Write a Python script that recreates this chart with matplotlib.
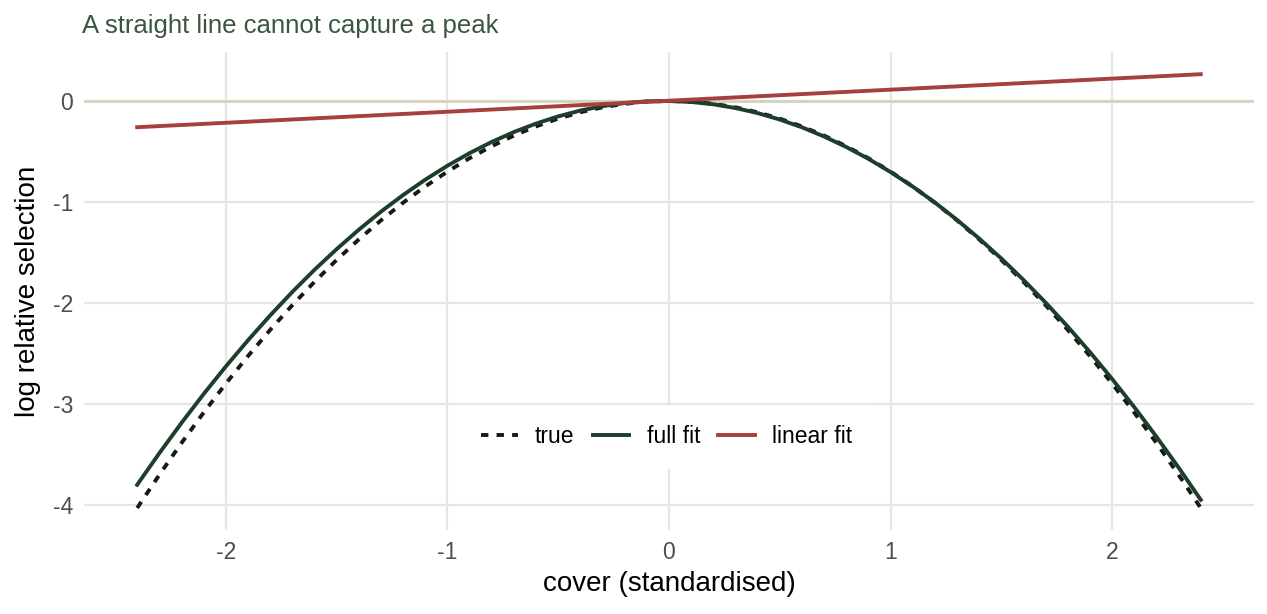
import numpy as np
import matplotlib
matplotlib.use("Agg")
import matplotlib.pyplot as plt

plt.rcParams['font.family'] = ['Liberation Sans', 'DejaVu Sans']
plt.rcParams['axes.unicode_minus'] = False

# values
x = [-2.4, -2.3, -2.2, -2.1, -2.0, -1.9, -1.8, -1.7, -1.6, -1.5, -1.4, -1.3, -1.2, -1.1, -1.0,
     -0.9, -0.8, -0.7, -0.6, -0.5, -0.4, -0.3, -0.2, -0.1, 0.0,
     0.1, 0.2, 0.3, 0.4, 0.5, 0.6, 0.7, 0.8, 0.9, 1.0, 1.1, 1.2, 1.3, 1.4, 1.5,
     1.6, 1.7, 1.8, 1.9, 2.0, 2.1, 2.2, 2.3, 2.4]
true_y = [-4.032, -3.703, -3.388, -3.087, -2.800, -2.527, -2.268, -2.023, -1.792, -1.575,
          -1.372, -1.183, -1.008, -0.847, -0.700, -0.567, -0.448, -0.343, -0.252, -0.175,
          -0.112, -0.063, -0.028, -0.007, 0.0,
          -0.007, -0.028, -0.063, -0.112, -0.175, -0.252, -0.343, -0.448, -0.567, -0.700,
          -0.847, -1.008, -1.183, -1.372, -1.575, -1.792, -2.023, -2.268, -2.527, -2.800,
          -3.087, -3.388, -3.703, -4.032]
full_y = [-3.802, -3.489, -3.189, -2.903, -2.630, -2.371, -2.125, -1.892, -1.673, -1.468,
          -1.276, -1.097, -0.932, -0.780, -0.642, -0.517, -0.406, -0.308, -0.224, -0.153,
          -0.095, -0.051, -0.021, -0.004, 0.0,
          -0.010, -0.033, -0.070, -0.120, -0.184, -0.261, -0.352, -0.456, -0.573, -0.704,
          -0.848, -1.006, -1.178, -1.363, -1.561, -1.773, -1.998, -2.236, -2.488, -2.754,
          -3.033, -3.326, -3.632, -3.951]
lin_x = [-2.4, 2.4]
lin_y = [-0.26, 0.265]

xticks = [-2, -1, 0, 1, 2]
yticks = [-4, -3, -2, -1, 0]

fig = plt.figure(figsize=(12.67, 6.14), dpi=100)
ax = fig.add_axes([0.0663, 0.1368, 0.9234, 0.7777])

ax.axhline(0, color='#d5d5bf', lw=2.2, zorder=1)
ax.plot(x, true_y, color='#151a17', lw=2.8, linestyle=(0, (1.9, 2.1)), label='true', zorder=2)
ax.plot(x, full_y, color='#1e3d2a', lw=2.8, label='full fit', zorder=3,
        solid_joinstyle='round')
ax.plot(lin_x, lin_y, color='#a63f3f', lw=2.8, label='linear fit', zorder=4)

ax.set_xlim(-2.64, 2.64)
ax.set_ylim(-4.25, 0.48)
ax.set_xticks(xticks)
ax.set_yticks(yticks)
ax.set_xticklabels([str(t) for t in xticks])
ax.set_yticklabels([str(t) for t in yticks])
ax.grid(True, color='#e6e6e6', lw=1.6, zorder=0)
ax.set_axisbelow(True)
for s in ax.spines.values():
    s.set_visible(False)
ax.tick_params(length=0, labelsize=16.5, labelcolor='#4d4d4d', pad=8)

ax.set_xlabel('cover (standardised)', fontsize=20, labelpad=5)
ax.set_ylabel('log relative selection', fontsize=20, labelpad=8)
fig.text(0.065, 0.958, 'A straight line cannot capture a peak', fontsize=18.5,
         color='#3b5640', ha='left', va='center')

leg = ax.legend(loc='center', bbox_to_anchor=(0.498, 0.195), ncol=3, fontsize=16.5,
                frameon=True, fancybox=False, handlelength=1.6, handletextpad=0.75,
                columnspacing=0.8, borderpad=0.9)
leg.get_frame().set_facecolor('white')
leg.get_frame().set_edgecolor('none')
leg.get_frame().set_alpha(1)
leg.set_zorder(5)

fig.savefig('out.png', dpi=100)
